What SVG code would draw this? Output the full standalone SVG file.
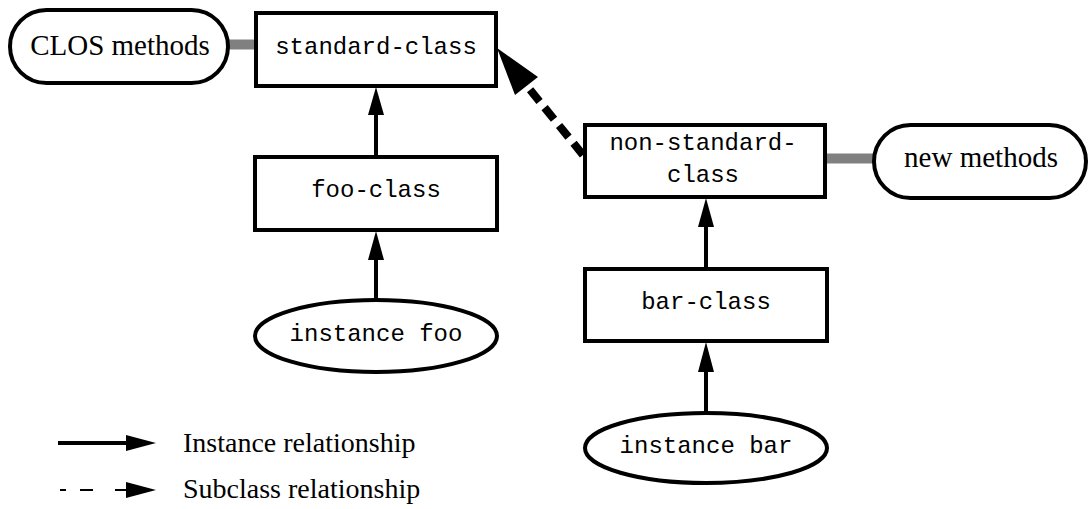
<svg xmlns="http://www.w3.org/2000/svg" width="1088" height="509" viewBox="0 0 1088 509">
<style>
.box{fill:#fff;stroke:#000;stroke-width:4}
.mono{font-family:"Liberation Mono","Courier New",monospace;font-size:24px;fill:#000;text-anchor:middle}
.serif{font-family:"Liberation Serif","Times New Roman",serif;font-size:29px;fill:#000;text-anchor:middle}
.leg{font-family:"Liberation Serif","Times New Roman",serif;font-size:28px;fill:#000}
.edge{stroke:#000;stroke-width:4;fill:none}
.gray{stroke:#808080;stroke-width:10;fill:none}
.head{fill:#000}
</style>
<rect width="1088" height="509" fill="#fff"/>
<g id="connectors">
  <line class="gray" x1="228" y1="44.5" x2="256" y2="44.5"/>
  <line class="gray" x1="824" y1="158.5" x2="875" y2="158.5"/>
  <line class="edge" x1="376" y1="157" x2="376" y2="112"/>
  <polygon class="head" points="376,87 368,115 384,115"/>
  <line class="edge" x1="376" y1="300" x2="376" y2="257"/>
  <polygon class="head" points="376,231 368,260 384,260"/>
  <line class="edge" x1="706" y1="269" x2="706" y2="224"/>
  <polygon class="head" points="706,198 698,227 714,227"/>
  <line class="edge" x1="706" y1="412" x2="706" y2="369"/>
  <polygon class="head" points="706,342 698,372 714,372"/>
  <line x1="583" y1="155" x2="523" y2="81" stroke="#000" stroke-width="8" stroke-dasharray="15,8" fill="none"/>
  <polygon class="head" points="497,48 515,95 538,77"/>
</g>
<g id="clos-methods">
  <rect class="box" x="10" y="10" width="218" height="73" rx="36.5" ry="36.5"/>
  <text class="serif" x="120" y="55">CLOS methods</text>
</g>
<g id="standard-class">
  <rect class="box" x="256" y="13" width="240" height="73"/>
  <text class="mono" x="376" y="54">standard-class</text>
</g>
<g id="foo-class">
  <rect class="box" x="255" y="157" width="242" height="73"/>
  <text class="mono" x="376" y="197">foo-class</text>
</g>
<g id="instance-foo">
  <ellipse class="box" cx="376" cy="336" rx="121" ry="36"/>
  <text class="mono" x="376" y="341">instance foo</text>
</g>
<g id="non-standard-class">
  <rect class="box" x="585" y="125" width="240" height="72"/>
  <text class="mono" x="703" y="150">non-standard-</text>
  <text class="mono" x="703" y="182">class</text>
</g>
<g id="new-methods">
  <rect class="box" x="874" y="125" width="212" height="73" rx="36.5" ry="36.5"/>
  <text class="serif" x="981" y="167">new methods</text>
</g>
<g id="bar-class">
  <rect class="box" x="585" y="269" width="242" height="72"/>
  <text class="mono" x="706" y="309">bar-class</text>
</g>
<g id="instance-bar">
  <ellipse class="box" cx="706" cy="448" rx="121" ry="35"/>
  <text class="mono" x="706" y="453">instance bar</text>
</g>
<g id="legend">
  <line x1="58" y1="443" x2="130" y2="443" stroke="#000" stroke-width="4"/>
  <polygon class="head" points="156,443 126,435 126,451"/>
  <text class="leg" x="183" y="452">Instance relationship</text>
  <line x1="60" y1="490" x2="66" y2="490" stroke="#000" stroke-width="2"/>
  <line x1="80" y1="490" x2="93" y2="490" stroke="#000" stroke-width="2"/>
  <line x1="115" y1="490" x2="130" y2="490" stroke="#000" stroke-width="2"/>
  <polygon class="head" points="156,490 126,482 126,498"/>
  <text class="leg" x="183" y="498">Subclass relationship</text>
</g>
</svg>
